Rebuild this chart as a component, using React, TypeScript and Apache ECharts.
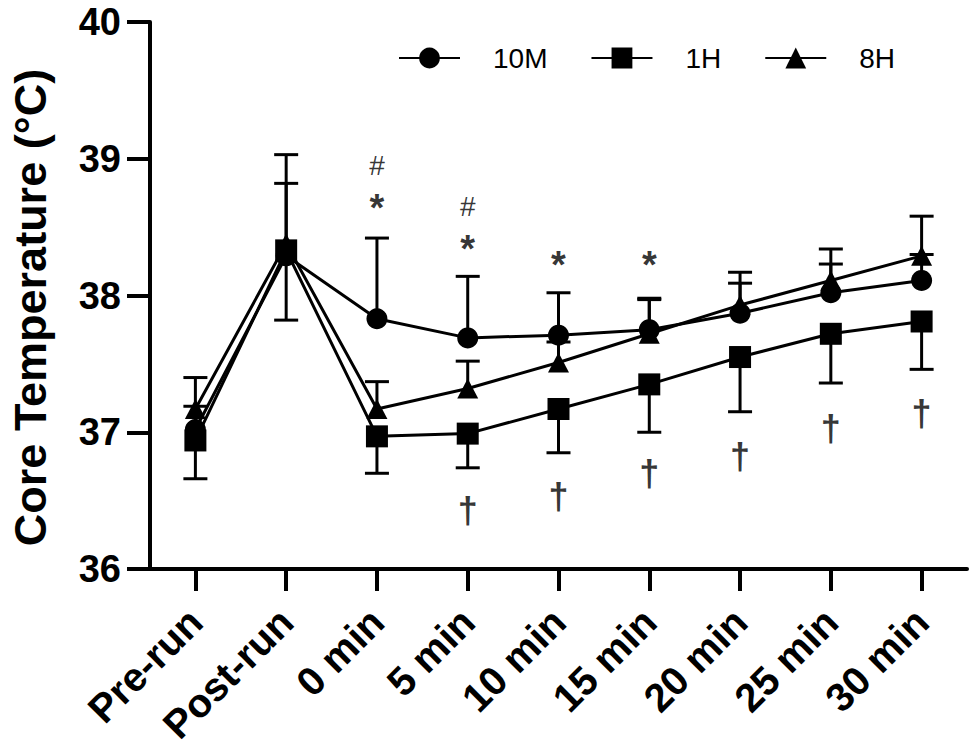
import React, { useEffect, useRef } from "react";
import * as echarts from "echarts";

const categories = ["Pre-run", "Post-run", "0 min", "5 min", "10 min", "15 min", "20 min", "25 min", "30 min"];
const yTicks = [36, 37, 38, 39, 40];

const mean10M = [37.02, 38.29, 37.83, 37.69, 37.71, 37.75, 37.87, 38.02, 38.11];
const upper10M = [37.19, 38.82, 38.42, 38.14, 38.02, 37.97, 38.09, 38.23, 38.3];
const mean1H = [36.94, 38.33, 36.97, 36.99, 37.17, 37.35, 37.55, 37.72, 37.81];
const lower1H = [36.66, 37.82, 36.7, 36.74, 36.85, 37.0, 37.15, 37.36, 37.46];
const mean8H = [37.17, 38.38, 37.17, 37.32, 37.51, 37.72, 37.93, 38.11, 38.29];
const upper8H = [37.4, 39.03, 37.37, 37.52, 37.66, 37.98, 38.17, 38.34, 38.58];

const hashCats = ["0 min", "5 min"];
const hashY = [38.95, 38.65];
const starCats = ["0 min", "5 min", "10 min", "15 min"];
const starY = [38.64, 38.34, 38.22, 38.22];
const daggerCats = ["5 min", "10 min", "15 min", "20 min", "25 min", "30 min"];
const daggerY = [36.43, 36.53, 36.7, 36.82, 37.03, 37.14];

const FONT = "'Liberation Sans', Arial, Helvetica, sans-serif";

function renderErr(params: any, api: any) {
  const x = api.value(0);
  const p1 = api.coord([x, api.value(1)]);
  const p2 = api.coord([x, api.value(2)]);
  const st = { stroke: "#000", lineWidth: 3 };
  return {
    type: "group",
    children: [
      { type: "line", shape: { x1: p1[0], y1: p1[1], x2: p2[0], y2: p2[1] }, style: st },
      { type: "line", shape: { x1: p2[0] - 12, y1: p2[1], x2: p2[0] + 12, y2: p2[1] }, style: st },
    ],
  };
}

function errSeries(name: string, means: number[], ends: number[]) {
  return {
    name,
    type: "custom",
    renderItem: renderErr,
    data: means.map((m, i) => [i, m, ends[i]]),
    encode: { x: 0, y: [1, 2] },
    z: 1,
    silent: true,
  };
}

function lineSeries(name: string, data: number[], symbol: string, size: any) {
  return {
    name,
    type: "line",
    data,
    symbol,
    symbolSize: size,
    showAllSymbol: true,
    lineStyle: { color: "#000", width: 3 },
    itemStyle: { color: "#000" },
    z: 3,
  };
}

function textSeries(name: string, cats: string[], ys: number[], text: string, fontSize: number, weight: string) {
  return {
    name,
    type: "scatter",
    symbol: "circle",
    symbolSize: 1,
    itemStyle: { color: "rgba(0,0,0,0)" },
    silent: true,
    z: 4,
    data: cats.map((c, i) => [c, ys[i]]),
    label: {
      show: true,
      position: "inside",
      formatter: text,
      color: "#000",
      fontSize,
      fontWeight: weight,
      fontFamily: FONT,
    },
  };
}

export default function App() {
  const ref = useRef<HTMLDivElement>(null);
  useEffect(() => {
    if (!ref.current) return;
    const chart = echarts.init(ref.current, undefined, { renderer: "svg" });
    chart.setOption({
      animation: false,
      backgroundColor: "#fff",
      textStyle: { fontFamily: FONT },
      grid: { left: 147, right: 7, top: 22, bottom: 179, containLabel: false },
      legend: {
        data: ["10M", "1H", "8H"],
        left: 398,
        top: 44,
        padding: 0,
        itemWidth: 61,
        itemHeight: 26,
        itemGap: 43,
        textStyle: { fontSize: 28, color: "#000", fontFamily: FONT, padding: [0, 0, 0, 28] },
      },
      xAxis: {
        type: "category",
        data: categories,
        boundaryGap: true,
        axisLine: { show: true, lineStyle: { color: "#000", width: 4 } },
        axisTick: { show: true, alignWithLabel: true, length: 22, lineStyle: { color: "#000", width: 4 } },
        axisLabel: {
          interval: 0,
          rotate: 45,
          margin: 46,
          color: "#000",
          fontSize: 40,
          fontWeight: "bold",
          fontFamily: FONT,
        },
        splitLine: { show: false },
      },
      yAxis: {
        type: "value",
        min: yTicks[0],
        max: yTicks[yTicks.length - 1],
        interval: 1,
        name: "Core Temperature (°C)",
        nameLocation: "middle",
        nameRotate: 90,
        nameGap: 97,
        nameTextStyle: {
          fontSize: 45,
          fontWeight: "bold",
          color: "#000",
          fontFamily: FONT,
          padding: [0, 24, 0, 0],
        },
        axisLine: { show: true, lineStyle: { color: "#000", width: 4 } },
        axisTick: { show: true, length: 23, lineStyle: { color: "#000", width: 4 } },
        axisLabel: { margin: 29, color: "#000", fontSize: 38, fontWeight: "bold", fontFamily: FONT },
        splitLine: { show: false },
      },
      series: [
        errSeries("err10M", mean10M, upper10M),
        errSeries("err1H", mean1H, lower1H),
        errSeries("err8H", mean8H, upper8H),
        lineSeries("1H", mean1H, "rect", 22),
        lineSeries("8H", mean8H, "triangle", [21, 20]),
        lineSeries("10M", mean10M, "circle", 21),
        textSeries("hash", hashCats, hashY, "#", 28, "normal"),
        textSeries("star", starCats, starY, "*", 38, "bold"),
        textSeries("dagger", daggerCats, daggerY, "†", 36, "bold"),
      ],
    });
    return () => chart.dispose();
  }, []);
  return (
    <div
      ref={ref}
      style={{ position: "fixed", left: 0, top: 0, width: 974, height: 748, background: "#fff" }}
    />
  );
}
